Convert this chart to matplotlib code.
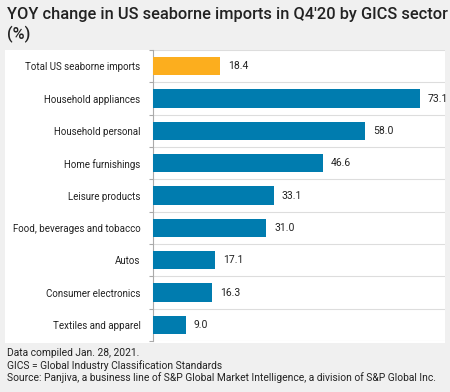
import matplotlib.pyplot as plt
import matplotlib.patches as mpatches
import numpy as np

categories = ["Total US seaborne imports", "Household appliances", "Household personal",
              "Home furnishings", "Leisure products", "Food, beverages and tobacco",
              "Autos", "Consumer electronics", "Textiles and apparel"]
values = [18.4, 73.1, 58.0, 46.6, 33.1, 31.0, 17.1, 16.3, 9.0]
colors = ["#fcae1e"] + ["#007caf"] * 8

plt.rcParams['font.family'] = ['Roboto', 'DejaVu Sans']

fig = plt.figure(figsize=(4.5, 3.92), dpi=100)
fig.patch.set_facecolor("#f0f0f0")
fig.patches.append(mpatches.Rectangle((5/450, 1-343/392), 440/450, 293/392,
                                      transform=fig.transFigure, facecolor="white",
                                      edgecolor="none", zorder=-5))

ax = fig.add_axes([153/450, 1-341/392, 292/450, 291/392])
ax.set_facecolor("none")
ax.set_zorder(2)
y = np.arange(len(categories))
ax.barh(y, values, height=0.56, color=colors, zorder=3)
for yi, v in zip(y, values):
    ax.text(v + 2.2, yi, f"{v:.1f}", va="center", ha="left", fontsize=7.5, color="#222222")

ax.set_xlim(0, 80)
ax.set_ylim(len(categories) - 0.5, -0.5)
ax.set_yticks(y)
ax.set_yticklabels(categories, fontsize=7.0, color="#222222")
ax.tick_params(axis="y", which="major", length=0, pad=9)
ax.set_yticks(np.arange(-0.5, len(categories), 1), minor=True)
ax.tick_params(axis="y", which="minor", length=3, color="#aaaaaa", width=0.8)
ax.grid(axis="y", which="minor", color="#dddddd", linewidth=0.8, zorder=0)
ax.set_xticks([])
for s in ["top", "right", "bottom"]:
    ax.spines[s].set_visible(False)
ax.spines["left"].set_color("#aaaaaa")
ax.spines["left"].set_linewidth(0.8)

fig.text(7/450, 1-7/392, "YOY change in US seaborne imports in Q4'20 by GICS sector\n(%)",
         fontsize=11.8, fontweight="medium", color="#222222", va="top", ha="left",
         linespacing=1.3)
fig.text(7/450, 1-348/392,
         "Data compiled Jan. 28, 2021.\nGICS = Global Industry Classification Standards\n"
         "Source: Panjiva, a business line of S&P Global Market Intelligence, a division of S&P Global Inc.",
         fontsize=7.4, color="#222222", va="top", ha="left", linespacing=1.2)

fig.savefig("out.png", dpi=100, facecolor=fig.get_facecolor())
